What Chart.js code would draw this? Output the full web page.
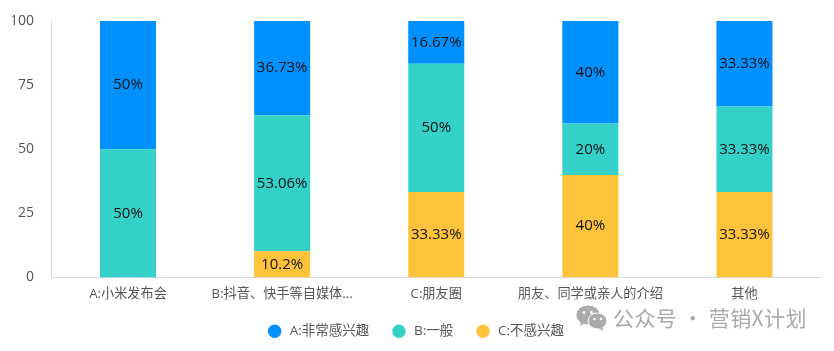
<!DOCTYPE html>
<html><head><meta charset="utf-8">
<script src="https://cdn.jsdelivr.net/npm/chart.js@4/dist/chart.umd.min.js"></script>
<style>
html,body{margin:0;padding:0;background:#fff;width:834px;height:351px;overflow:hidden}
#wrap{position:relative;width:834px;height:351px}
canvas{display:block}
#wm{position:absolute;left:613px;top:302px;font:21px "Noto Sans CJK SC","Open Sans",sans-serif;color:#a9a9a9;letter-spacing:0.4px;white-space:nowrap;line-height:30px}
#ic{position:absolute;left:576px;top:305px}
</style></head><body>
<div id="wrap"><canvas id="c" width="834" height="351"></canvas>
<svg id="ic" width="32" height="26" viewBox="0 0 32 26"><ellipse cx="12" cy="10" rx="11.5" ry="9.5" fill="#ababab"/><path d="M5 15l-1 6 6-4z" fill="#ababab"/><ellipse cx="21.5" cy="16" rx="9.5" ry="8" fill="#ababab" stroke="#fff" stroke-width="1"/><path d="M26 22l2 4-6-3z" fill="#ababab"/><circle cx="8" cy="7.5" r="1.5" fill="#fff"/><circle cx="15.5" cy="7.5" r="1.5" fill="#fff"/><circle cx="18.5" cy="14" r="1.2" fill="#fff"/><circle cx="25" cy="14" r="1.2" fill="#fff"/></svg>
<div id="wm">公众号 · 营销X计划</div></div>
<script>
const categories = ["A:小米发布会","B:抖音、快手等自媒体...","C:朋友圈","朋友、同学或亲人的介绍","其他"];
const seriesC = [0,10.2,33.33,40,33.33];
const seriesB = [50,53.06,50,20,33.33];
const seriesA = [50,36.73,16.67,40,33.33];
const yTicks = [0,25,50,75,100];
const FONT = '"Open Sans","Noto Sans CJK SC",sans-serif';
const barLabels = {
  id:'barLabels',
  afterDatasetsDraw(chart){
    const ctx = chart.ctx;
    ctx.save();
    ctx.font = '15px '+FONT;
    ctx.fillStyle = '#111';
    ctx.textAlign = 'center';
    ctx.textBaseline = 'middle';
    chart.data.datasets.forEach((ds,i)=>{
      chart.getDatasetMeta(i).data.forEach((bar,j)=>{
        if(!ds.data[j]) return;
        const p = bar.getProps(['x','y','base'],true);
        ctx.fillText(ds.data[j]+'%', p.x, (p.y+p.base)/2);
      });
    });
    ctx.restore();
  }
};
new Chart(document.getElementById('c'),{
  type:'bar',
  plugins:[barLabels],
  data:{labels:categories,datasets:[
    {label:'C:不感兴趣',data:seriesC,backgroundColor:'#ffc33b'},
    {label:'B:一般',data:seriesB,backgroundColor:'#34d1c9'},
    {label:'A:非常感兴趣',data:seriesA,backgroundColor:'#0091ff'}
  ]},
  options:{
    responsive:false,animation:false,
    layout:{padding:{left:12.5,right:12.5,top:21,bottom:3}},
    datasets:{bar:{barPercentage:1,categoryPercentage:56/154}},
    plugins:{
      tooltip:{enabled:false},
      legend:{
        position:'bottom',
        reverse:true,
        labels:{
          usePointStyle:true,pointStyle:'circle',boxWidth:9.5,boxHeight:9.5,padding:25,
          color:'#555',font:{size:13.5,family:FONT},
          generateLabels(chart){
            return Chart.defaults.plugins.legend.labels.generateLabels(chart).map(l=>({...l,text:' '+l.text}));
          }
        }
      }
    },
    scales:{
      x:{
        stacked:true,
        grid:{display:false,drawTicks:false},
        border:{color:'#cfdaf0',width:1},
        ticks:{color:'#555',font:{size:13.2,family:FONT},padding:9,maxRotation:0,autoSkip:false},
        afterFit(s){s.height=22;}
      },
      y:{
        stacked:true,min:0,max:100,
        afterBuildTicks(s){s.ticks=yTicks.map(v=>({value:v}));},
        grid:{display:false,drawTicks:false},
        border:{color:'#cfdaf0',width:1},
        ticks:{color:'#555',font:{size:14,family:FONT},padding:17},
        afterFit(s){s.width=38.5;s.paddingTop=0;s.paddingBottom=0;}
      }
    }
  }
});
</script></body></html>
